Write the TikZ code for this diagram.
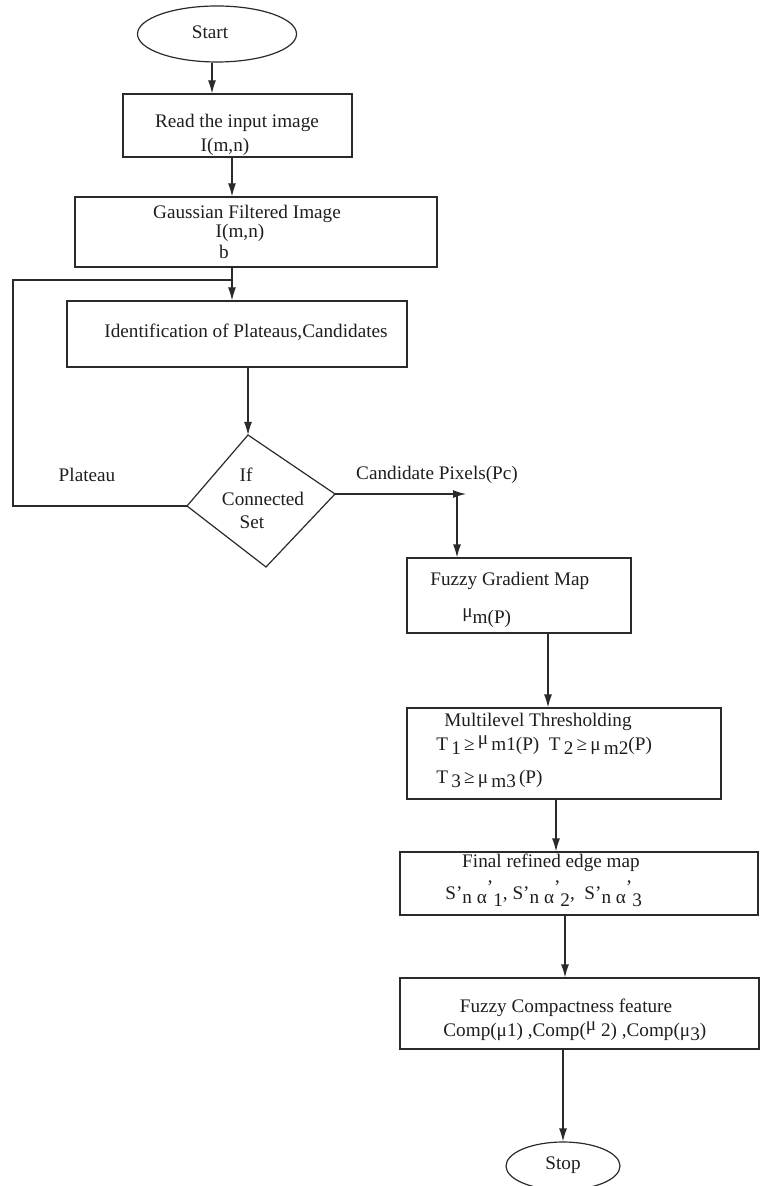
\documentclass[tikz,border=0pt]{standalone}
\usepackage{fontspec}
\setmainfont{Liberation Serif}
\usepackage{tikz}
\usetikzlibrary{positioning,arrows.meta,calc,shapes.geometric,fit}
\definecolor{penline}{HTML}{2A2A2A}
\definecolor{pentext}{HTML}{1E1E1E}
\newcommand{\chartfont}{\fontsize{9.6}{11}\selectfont}
\newcommand{\dn}[1]{\raisebox{-0.5ex}{#1}}
\newcommand{\up}[1]{\raisebox{0.6ex}{#1}}
\newcommand{\prm}[1]{\raisebox{0.6ex}{’}\raisebox{-0.8ex}{#1}}

\begin{document}
\begin{tikzpicture}[x=0.5pt,y=-0.5pt,font=\chartfont,
  box/.style={draw=penline,line width=0.6pt,rectangle,inner sep=0pt},
  term/.style={draw=penline,line width=0.6pt,ellipse,inner sep=0pt},
  txt/.style={text=pentext,inner sep=0pt},
  arr/.style={draw=penline,line width=0.6pt,-{Latex[length=6.5pt,width=4pt]}},
  wire/.style={draw=penline,line width=0.6pt}]
  \useasboundingbox (0,0) rectangle (760,1186);
  %% lanes of the vertical connectors
  \coordinate (lnA) at (212,0);
  \coordinate (lnB) at (232,0);
  \coordinate (lnC) at (466,0);
  \coordinate (lnD) at (457,0);
  \coordinate (lnE) at (548,0);
  \coordinate (lnF) at (556,0);
  \coordinate (lnG) at (565,0);
  \coordinate (fbk) at (13,280);
  %% left column
  \node[term,minimum width=79.5pt,minimum height=28pt] (start) at (217,34) {};
  \node[txt] (start-t) at (210,32) {Start};
  \node[box,fit={(123,94) (352,157)}] (read) {};
  \node[txt] (read-l1) at (237,123) {Read the input image};
  \node[txt] (read-l2) at (225,147) {I(m,n)};
  \node[box,fit={(75,197) (437,267)}] (gauss) {};
  \node[txt] (gauss-l1) at (247,214) {Gaussian Filtered Image};
  \node[txt,anchor=base] (gauss-l2) at (240,238) {I(m,n)};
  \node[txt,anchor=base] (gauss-l3) at (224,259) {b};
  \node[box,fit={(67,301) (407,367)}] (ident) {};
  \node[txt] (ident-t) at (246,332) {Identification of Plateaus,Candidates};
  %% decision
  \coordinate (dtop) at (248,435);
  \coordinate (dright) at (335,494);
  \coordinate (dbot) at (266,567);
  \coordinate (dleft) at (187,506);
  \draw[wire] (dtop) -- (dright) -- (dbot) -- (dleft) -- cycle;
  \node[txt] (cond-1) at (246,475) {If};
  \node[txt] (cond-2) at (263,499) {Connected};
  \node[txt] (cond-3) at (252,522) {Set};
  \node[txt] (plat) at (87,475) {Plateau};
  \node[txt] (cand) at (437,475) {Candidate Pixels(Pc)};
  %% right column
  \node[box,fit={(407,558) (631,633)}] (grad) {};
  \node[txt,anchor=base west] (grad-l1) at (430,585) {Fuzzy Gradient Map};
  \node[txt,anchor=base west] (grad-l2) at (462,623) {\up{μ}m(P)};
  \node[box,fit={(407,708) (721,799)}] (multi) {};
  \node[txt,anchor=base] (multi-l1) at (538,726) {Multilevel Thresholding};
  \node[txt,anchor=base west] (multi-l2) at (436,750)
    {T\,\dn{1}\,≥\,\up{μ}\,m1(P)\enspace T\,\dn{2}\,≥\,μ\,\dn{m2}(P)};
  \node[txt,anchor=base west] (multi-l3) at (436,783) {T\,\dn{3}\,≥\,μ\,\dn{m3}\,(P)};
  \node[box,fit={(400,852) (758,915)}] (final) {};
  \node[txt,anchor=base] (final-l1) at (551,867) {Final refined edge map};
  \node[txt,anchor=base west] (final-l2) at (445,899)
    {S’\dn{n α}\prm{1},\ S’\dn{n α}\prm{2},\ \ S’\dn{n α}\prm{3}};
  \node[box,fit={(400,978) (759,1049)}] (comp) {};
  \node[txt,anchor=base] (comp-l1) at (566,1012) {Fuzzy Compactness feature};
  \node[txt,anchor=base west] (comp-l2) at (443,1036)
    {Comp(μ1) ,Comp(\up{μ} 2) ,Comp(μ\dn{3})};
  \node[term,minimum width=57pt,minimum height=24pt] (stop) at (563,1166) {};
  \node[txt] (stop-t) at (563,1165) {Stop};
  %% connectors
  \draw[arr] (start.south -| lnA) -- (read.north -| lnA);
  \draw[arr] (read.south -| lnB) -- (gauss.north -| lnB);
  \draw[arr] (gauss.south -| lnB) -- (ident.north -| lnB);
  \draw[wire] (dleft) -| (fbk) -- (fbk -| lnB);
  \draw[arr] (ident.south -| dtop) -- (dtop);
  \draw[arr] (dright) -- (dright -| lnC);
  \draw[arr] (dright -| lnD) -- (grad.north -| lnD);
  \draw[arr] (grad.south -| lnE) -- (multi.north -| lnE);
  \draw[arr] (multi.south -| lnF) -- (final.north -| lnF);
  \draw[arr] (final.south -| lnG) -- (comp.north -| lnG);
  \draw[arr] (comp.south -| stop.north) -- (stop.north);
\end{tikzpicture}
\end{document}
